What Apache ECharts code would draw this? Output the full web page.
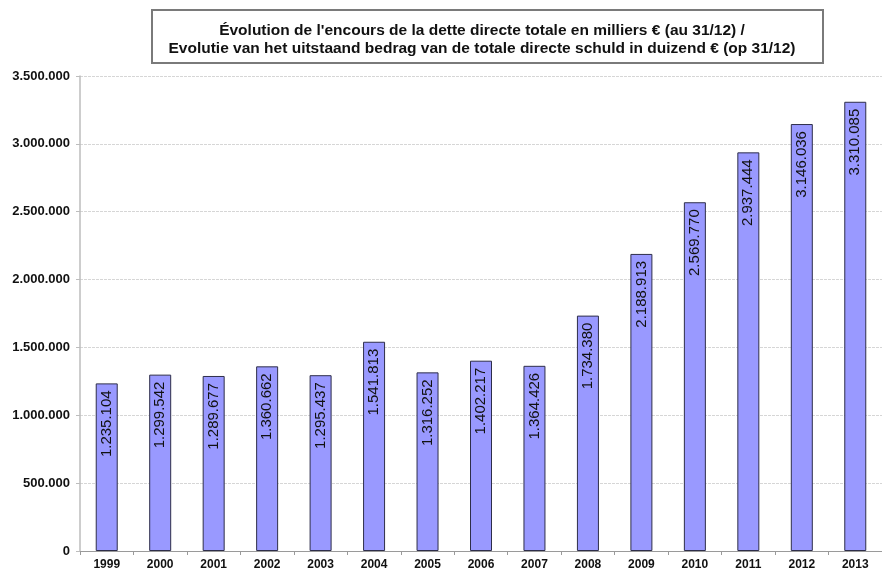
<!DOCTYPE html>
<html>
<head>
<meta charset="utf-8">
<script src="https://cdn.jsdelivr.net/npm/echarts@6/dist/echarts.min.js"></script>
<style>
  html, body { margin: 0; padding: 0; background: #fff; }
  #chart { width: 882px; height: 571px; }
</style>
</head>
<body>
<div id="chart"></div>
<script>
// Outstanding total direct debt, thousands of euro, at 31/12
const years = ['1999','2000','2001','2002','2003','2004','2005','2006','2007','2008','2009','2010','2011','2012','2013'];
const debt = [1235104, 1299542, 1289677, 1360662, 1295437, 1541813, 1316252, 1402217, 1364426, 1734380, 2188913, 2569770, 2937444, 3146036, 3310085];
const titleLines = [
  "Évolution de l'encours de la dette directe totale en milliers € (au 31/12) /",
  "Evolutie van het uitstaand bedrag van de totale directe schuld in duizend € (op 31/12)"
];

// Belgian-style thousands separator
function fmt(v) {
  return String(v).replace(/\B(?=(\d{3})+(?!\d))/g, '.');
}

const chart = echarts.init(document.getElementById('chart'), null, { renderer: 'canvas' });
chart.setOption({
  animation: false,
  backgroundColor: '#ffffff',
  textStyle: { fontFamily: '"Liberation Sans", Arial, sans-serif' },
  graphic: [
    {
      type: 'rect',
      shape: { x: 152, y: 10, width: 671, height: 53 },
      style: { fill: '#ffffff', stroke: '#7a7a7a', lineWidth: 2 },
      z: 10
    },
    {
      type: 'text',
      x: 482, y: 39.5,
      style: {
        text: titleLines.join('\n'),
        fill: '#111',
        font: 'bold 15.5px "Liberation Sans", Arial, sans-serif',
        align: 'center',
        verticalAlign: 'middle',
        lineHeight: 18
      },
      z: 11
    }
  ],
  grid: { left: 80, top: 76, width: 808, height: 475, containLabel: false },
  xAxis: {
    type: 'category',
    data: years,
    axisLine: { lineStyle: { color: '#9a9a9a', width: 1 } },
    axisTick: { show: true, length: 4, lineStyle: { color: '#9a9a9a' } },
    axisLabel: { color: '#111', fontWeight: 'bold', fontSize: 12, margin: 8 }
  },
  yAxis: {
    type: 'value',
    min: 0, max: 3500000, interval: 500000,
    axisLine: { show: true, lineStyle: { color: '#bdbdbd', width: 1.5 } },
    axisTick: { show: true, length: 4, lineStyle: { color: '#bdbdbd' } },
    axisLabel: { color: '#111', fontWeight: 'bold', fontSize: 13, margin: 10, formatter: fmt },
    splitLine: { lineStyle: { color: '#d6d6d6', width: 1, type: [3, 1] } }
  },
  series: [{
    type: 'bar',
    data: debt,
    barWidth: 22,
    itemStyle: { color: '#9999ff', borderColor: '#2e2e4a', borderWidth: 1 },
    label: {
      show: true,
      position: 'insideTop',
      rotate: 90,
      align: 'right',
      verticalAlign: 'middle',
      distance: 7,
      color: '#111',
      fontSize: 15,
      formatter: p => fmt(p.value)
    }
  }]
});
</script>
</body>
</html>
